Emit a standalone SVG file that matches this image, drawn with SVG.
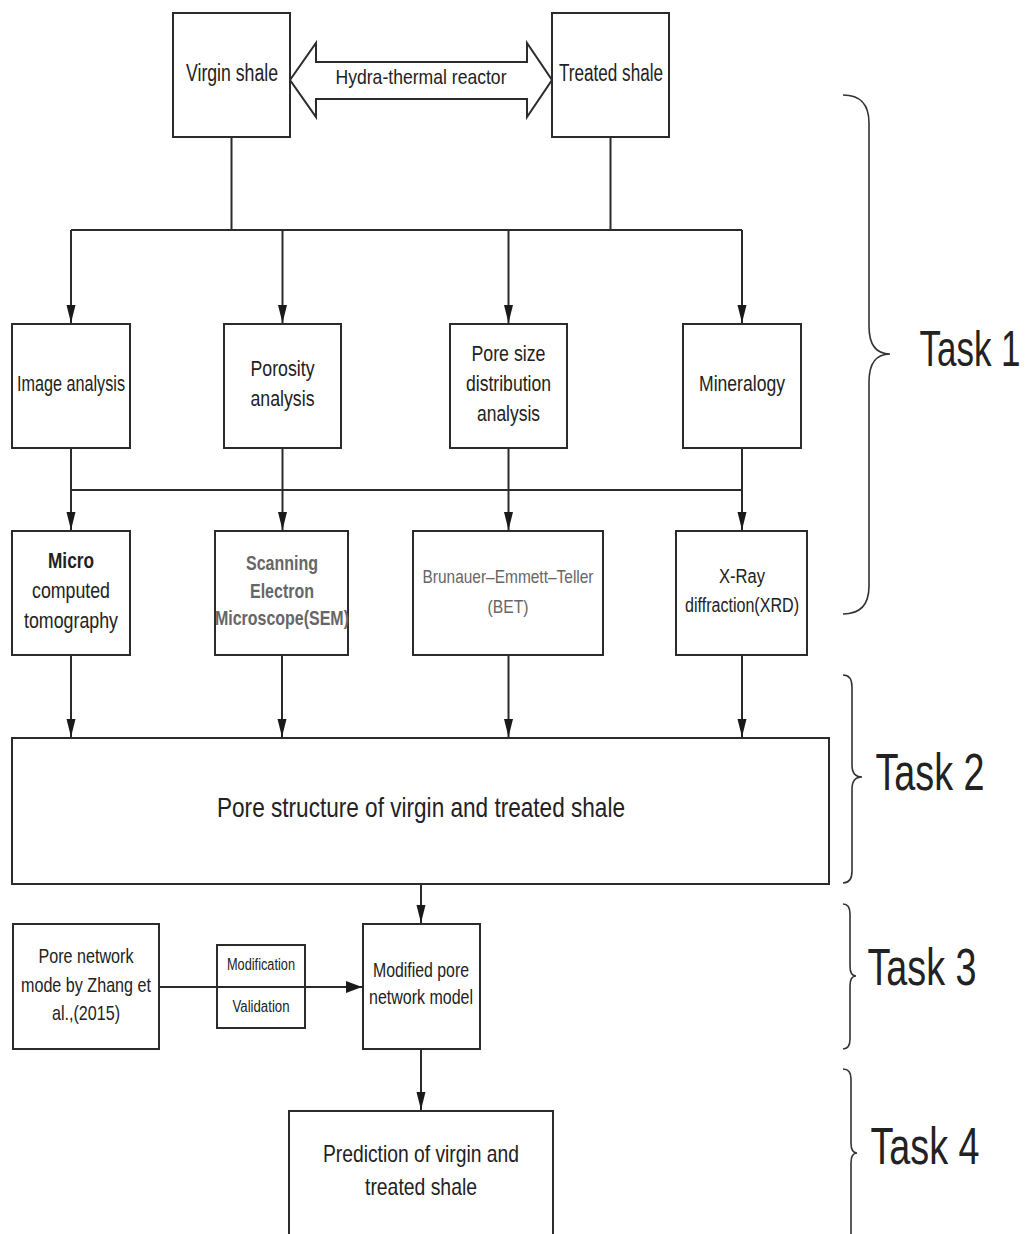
<svg xmlns="http://www.w3.org/2000/svg" width="1031" height="1234" viewBox="0 0 1031 1234">
<style>
.box{fill:#fff;stroke:#2b2b2b;stroke-width:2}
.t{font-family:"Liberation Sans Narrow","Liberation Sans",Arial,sans-serif;fill:#222;text-anchor:middle}
.g{fill:#666}
.b{font-weight:bold}
.ln{fill:none;stroke:#2b2b2b;stroke-width:2}
.br{fill:none;stroke:#333;stroke-width:1.6}
</style>
<defs>
<marker id="ah" markerUnits="userSpaceOnUse" markerWidth="18" markerHeight="10" refX="18" refY="4.5" orient="auto">
<path d="M0,0 L18,4.5 L0,9 z" fill="#1a1a1a"/>
</marker>
<marker id="ahw" markerUnits="userSpaceOnUse" markerWidth="16" markerHeight="12" refX="16" refY="6" orient="auto">
<path d="M0,0 L16,6 L0,12 z" fill="#1a1a1a"/>
</marker>
</defs>
<rect width="1031" height="1234" fill="#fff"/>

<g id="virgin"><rect class="box" x="173" y="13" width="117" height="124"/><text class="t" x="232" y="81" font-size="23" textLength="92" lengthAdjust="spacingAndGlyphs">Virgin shale</text></g>
<g id="reactor"><polygon class="box" points="290,80 316,43 316,62 527,62 527,43 552,80 527,117 527,99 316,99 316,117"/><text class="t" x="421" y="84" font-size="21" textLength="171" lengthAdjust="spacingAndGlyphs">Hydra-thermal reactor</text></g>
<g id="treated"><rect class="box" x="552" y="13" width="117" height="124"/><text class="t" x="611" y="81" font-size="23" textLength="104" lengthAdjust="spacingAndGlyphs">Treated shale</text></g>

<g id="image"><rect class="box" x="12" y="324" width="118" height="124"/><text class="t" x="71" y="391" font-size="22" textLength="108" lengthAdjust="spacingAndGlyphs">Image analysis</text></g>
<g id="porosity"><rect class="box" x="224" y="324" width="117" height="124"/><text class="t" x="282.5" y="376" font-size="22" textLength="64" lengthAdjust="spacingAndGlyphs">Porosity</text><text class="t" x="282.5" y="406" font-size="22" textLength="64" lengthAdjust="spacingAndGlyphs">analysis</text></g>
<g id="poresize"><rect class="box" x="450" y="324" width="117" height="124"/><text class="t" x="508.5" y="361" font-size="22" textLength="74" lengthAdjust="spacingAndGlyphs">Pore size</text><text class="t" x="508.5" y="391" font-size="22" textLength="85" lengthAdjust="spacingAndGlyphs">distribution</text><text class="t" x="508.5" y="421" font-size="22" textLength="63" lengthAdjust="spacingAndGlyphs">analysis</text></g>
<g id="mineralogy"><rect class="box" x="683" y="324" width="118" height="124"/><text class="t" x="742" y="391" font-size="22" textLength="86" lengthAdjust="spacingAndGlyphs">Mineralogy</text></g>

<g id="microct"><rect class="box" x="12" y="531" width="118" height="124"/><text class="t b" x="71" y="568" font-size="22" textLength="46" lengthAdjust="spacingAndGlyphs">Micro</text><text class="t" x="71" y="598" font-size="22" textLength="78" lengthAdjust="spacingAndGlyphs">computed</text><text class="t" x="71" y="628" font-size="22" textLength="94" lengthAdjust="spacingAndGlyphs">tomography</text></g>
<g id="sem"><rect class="box" x="215" y="531" width="133" height="124"/><text class="t g b" x="282" y="570" font-size="21" textLength="72" lengthAdjust="spacingAndGlyphs">Scanning</text><text class="t g b" x="282" y="598" font-size="21" textLength="64" lengthAdjust="spacingAndGlyphs">Electron</text><text class="t g b" x="282" y="625" font-size="21" textLength="134" lengthAdjust="spacingAndGlyphs">Microscope(SEM)</text></g>
<g id="bet"><rect class="box" x="413" y="531" width="190" height="124"/><text class="t g" x="508" y="583" font-size="19" textLength="171" lengthAdjust="spacingAndGlyphs">Brunauer–Emmett–Teller</text><text class="t g" x="508" y="613" font-size="19" textLength="41" lengthAdjust="spacingAndGlyphs">(BET)</text></g>
<g id="xrd"><rect class="box" x="676" y="531" width="131" height="124"/><text class="t" x="742" y="583" font-size="20" textLength="46" lengthAdjust="spacingAndGlyphs">X-Ray</text><text class="t" x="742" y="612" font-size="20" textLength="114" lengthAdjust="spacingAndGlyphs">diffraction(XRD)</text></g>

<g id="porestructure"><rect class="box" x="12" y="738" width="817" height="146"/><text class="t" x="421" y="817" font-size="28" textLength="408" lengthAdjust="spacingAndGlyphs">Pore structure of virgin and treated shale</text></g>

<g id="zhang"><rect class="box" x="13" y="924" width="146" height="125"/><text class="t" x="86" y="963" font-size="21" textLength="95" lengthAdjust="spacingAndGlyphs">Pore network</text><text class="t" x="86" y="992" font-size="21" textLength="130" lengthAdjust="spacingAndGlyphs">mode by Zhang et</text><text class="t" x="86" y="1020" font-size="21" textLength="68" lengthAdjust="spacingAndGlyphs">al.,(2015)</text></g>
<g id="modval"><rect class="box" x="217" y="945" width="88" height="83"/><text class="t" x="261" y="970" font-size="16" textLength="68" lengthAdjust="spacingAndGlyphs">Modification</text><text class="t" x="261" y="1012" font-size="16" textLength="57" lengthAdjust="spacingAndGlyphs">Validation</text></g>
<g id="modified"><rect class="box" x="363" y="924" width="117" height="125"/><text class="t" x="421" y="977" font-size="20" textLength="96" lengthAdjust="spacingAndGlyphs">Modified pore</text><text class="t" x="421" y="1004" font-size="20" textLength="104" lengthAdjust="spacingAndGlyphs">network model</text></g>
<g id="prediction"><rect class="box" x="289" y="1111" width="264" height="135"/><text class="t" x="421" y="1162" font-size="24" textLength="196" lengthAdjust="spacingAndGlyphs">Prediction of virgin and</text><text class="t" x="421" y="1195" font-size="24" textLength="112" lengthAdjust="spacingAndGlyphs">treated shale</text></g>

<g id="task1"><path class="br" d="M843,95 Q869,95 869,123 L869,326 Q869,354 890,354 Q869,354 869,382 L869,586 Q869,614 843,614"/><text class="t" font-family="Liberation Sans, Arial, sans-serif" style="font-family:'Liberation Sans',Arial,sans-serif" transform="translate(970,366) scale(0.7,1)" x="0" y="0" font-size="50">Task 1</text></g>
<g id="task2"><path class="br" d="M843,675 Q852,675 852,687 L852,765 Q852,777 862,777 Q852,777 852,789 L852,871 Q852,883 843,883"/><text class="t" x="930" y="790" font-size="52" textLength="109" lengthAdjust="spacingAndGlyphs">Task 2</text></g>
<g id="task3"><path class="br" d="M843,904 Q850,904 850,914 L850,966 Q850,976 856,976 Q850,976 850,986 L850,1039 Q850,1049 843,1049"/><text class="t" x="922" y="985" font-size="52" textLength="109" lengthAdjust="spacingAndGlyphs">Task 3</text></g>
<g id="task4"><path class="br" d="M843,1069 Q851,1069 851,1079 L851,1143 Q851,1153 857,1153 Q851,1153 851,1163 L851,1240"/><text class="t" x="925" y="1164" font-size="52" textLength="109" lengthAdjust="spacingAndGlyphs">Task 4</text></g>

<g id="connectors">
<path class="ln" d="M231.5,137 V230 M610.5,137 V230 M71,230 H742"/>
<path class="ln" d="M71,230 V323" marker-end="url(#ah)"/>
<path class="ln" d="M282.5,230 V323" marker-end="url(#ah)"/>
<path class="ln" d="M508.5,230 V323" marker-end="url(#ah)"/>
<path class="ln" d="M742,230 V323" marker-end="url(#ah)"/>
<path class="ln" d="M71,490 H742"/>
<path class="ln" d="M71,448 V530" marker-end="url(#ah)"/>
<path class="ln" d="M282.5,448 V530" marker-end="url(#ah)"/>
<path class="ln" d="M508.5,448 V530" marker-end="url(#ah)"/>
<path class="ln" d="M742,448 V530" marker-end="url(#ah)"/>
<path class="ln" d="M71,655 V737" marker-end="url(#ah)"/>
<path class="ln" d="M282,655 V737" marker-end="url(#ah)"/>
<path class="ln" d="M508.5,655 V737" marker-end="url(#ah)"/>
<path class="ln" d="M742,655 V737" marker-end="url(#ah)"/>
<path class="ln" d="M421,884 V923" marker-end="url(#ah)"/>
<path class="ln" d="M159,987 H362" marker-end="url(#ahw)"/>
<path class="ln" d="M421,1049 V1110" marker-end="url(#ah)"/>
</g>
</svg>
